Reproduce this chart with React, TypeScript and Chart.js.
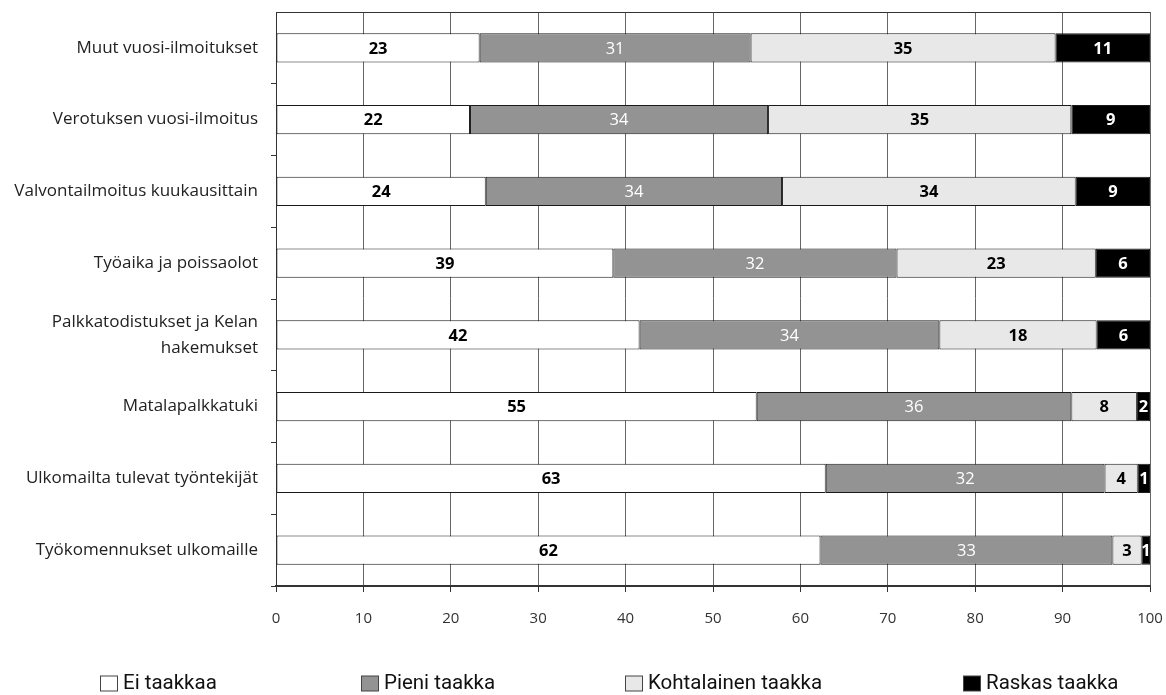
import React, { useEffect, useRef } from "react";
import { Chart, registerables } from "chart.js";

Chart.register(...registerables);

const categories: (string | string[])[] = [
  "Muut vuosi-ilmoitukset",
  "Verotuksen vuosi-ilmoitus",
  "Valvontailmoitus kuukausittain",
  "Työaika ja poissaolot",
  ["Palkkatodistukset ja Kelan", "hakemukset"],
  "Matalapalkkatuki",
  "Ulkomailta tulevat työntekijät",
  "Työkomennukset ulkomaille",
];

const seriesNames = ["Ei taakkaa", "Pieni taakka", "Kohtalainen taakka", "Raskas taakka"];

const eiTaakkaa = [23.3, 22.2, 24.0, 38.6, 41.6, 55.0, 62.9, 62.3];
const pieniTaakka = [31.0, 34.1, 33.9, 32.4, 34.3, 36.0, 31.9, 33.4];
const kohtalainenTaakka = [34.9, 34.7, 33.6, 22.8, 18.0, 7.5, 3.8, 3.35];
const raskasTaakka = [10.8, 9.0, 8.5, 6.2, 6.1, 1.5, 1.4, 0.95];

const xTicks = [0, 10, 20, 30, 40, 50, 60, 70, 80, 90, 100];

const fillColors = ["#ffffff", "#939393", "#e8e8e8", "#000000"];
const labelColors = ["#000000", "#ffffff", "#000000", "#ffffff"];
const labelWeights = ["bold", "normal", "bold", "bold"];

const FONT = "'Open Sans', 'DejaVu Sans', sans-serif";

const dataLabelPlugin = {
  id: "segLabels",
  afterDatasetsDraw(chart: any) {
    const { ctx, chartArea } = chart;
    ctx.save();
    ctx.beginPath();
    ctx.rect(chartArea.left, chartArea.top, chartArea.right - chartArea.left, chartArea.bottom - chartArea.top);
    ctx.clip();
    ctx.textAlign = "center";
    ctx.textBaseline = "middle";
    chart.data.datasets.forEach((ds: any, di: number) => {
      const meta = chart.getDatasetMeta(di);
      ctx.fillStyle = labelColors[di];
      ctx.font = `${labelWeights[di]} 16.5px ${FONT}`;
      meta.data.forEach((el: any, i: number) => {
        const p = el.getProps(["x", "y", "base"], true);
        const cx = (p.x + p.base) / 2;
        ctx.fillText(String(Math.round(ds.data[i])), cx, p.y + 1);
      });
    });
    ctx.restore();
  },
};

// legend item left edges (layout only)
const legendStarts = [100, 361, 625, 963];

const legendPlugin = {
  id: "customLegend",
  afterDraw(chart: any) {
    const { ctx } = chart;
    ctx.save();
    ctx.font = `20.5px Roboto, ${FONT}`;
    const boxW = 17;
    const boxH = 15;
    const gapText = 6;
    const cy = 683;
    ctx.textBaseline = "middle";
    ctx.textAlign = "left";
    chart.data.datasets.forEach((ds: any, i: number) => {
      const x = legendStarts[i];
      ctx.fillStyle = ds.backgroundColor;
      ctx.fillRect(x + 0.5, cy - boxH / 2 + 0.5, boxW, boxH);
      ctx.strokeStyle = "#444";
      ctx.lineWidth = 1;
      ctx.strokeRect(x + 0.5, cy - boxH / 2 + 0.5, boxW, boxH);
      ctx.fillStyle = "#111";
      ctx.fillText(ds.label, x + boxW + gapText, cy + 1);
    });
    ctx.restore();
  },
};

export default function App() {
  const ref = useRef<HTMLCanvasElement | null>(null);

  useEffect(() => {
    if (!ref.current) return;
    const series = [eiTaakkaa, pieniTaakka, kohtalainenTaakka, raskasTaakka];
    const chart = new Chart(ref.current, {
      type: "bar",
      data: {
        labels: categories,
        datasets: series.map((d, i) => ({
          label: seriesNames[i],
          data: d,
          backgroundColor: fillColors[i],
          borderColor: "#1a1a1a",
          borderWidth: 1,
          borderSkipped: false,
          barPercentage: 0.405,
          categoryPercentage: 1,
        })),
      },
      options: {
        indexAxis: "y",
        responsive: false,
        animation: false,
        events: [],
        layout: { padding: { left: 0, right: 16, top: 12, bottom: 60 } },
        plugins: {
          legend: { display: false },
          tooltip: { enabled: false },
        },
        scales: {
          x: {
            stacked: true,
            min: 0,
            max: 100,
            afterBuildTicks: (scale: any) => {
              scale.ticks = xTicks.map((v) => ({ value: v }));
            },
            afterFit: (scale: any) => {
              scale.height = 49;
              scale.paddingLeft = 0;
              scale.paddingRight = 0;
            },
            grid: {
              color: "#666666",
              lineWidth: 1,
              drawTicks: true,
              tickLength: 6,
              tickColor: "#333333",
            },
            border: { display: true, color: "#333333", width: 2 },
            ticks: {
              padding: 18,
              color: "#333333",
              font: { family: FONT, size: 15 },
              maxRotation: 0,
            },
          },
          y: {
            stacked: true,
            afterFit: (scale: any) => {
              scale.width = 276;
              scale.paddingTop = 0;
              scale.paddingBottom = 0;
            },
            grid: {
              offset: true,
              drawOnChartArea: true,
              color: (ctx: any) => (ctx.index === 0 ? "#333333" : "rgba(0,0,0,0)"),
              tickColor: (ctx: any) => (ctx.index === 0 ? "rgba(0,0,0,0)" : "#333333"),
              tickLength: 5,
              lineWidth: 1,
            },
            border: { display: true, color: "#333333", width: 1 },
            ticks: {
              padding: 13,
              color: "#222222",
              font: { family: FONT, size: 17, lineHeight: 1.55 },
            },
          },
        },
      },
      plugins: [dataLabelPlugin, legendPlugin],
    } as any);
    return () => chart.destroy();
  }, []);

  return (
    <div style={{ position: "absolute", left: 0, top: 0, width: 1166, height: 695, background: "#fff" }}>
      <canvas ref={ref} width={1166} height={695} style={{ display: "block" }} />
    </div>
  );
}
